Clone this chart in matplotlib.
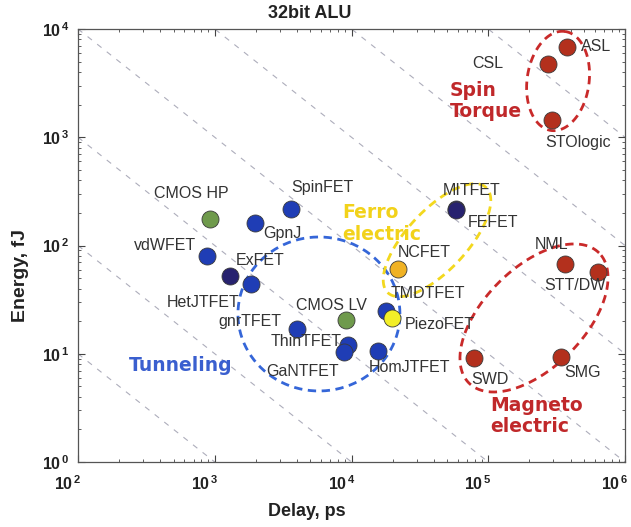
"""
Energy vs delay of a 32bit ALU for beyond-CMOS devices.
"""

import matplotlib
matplotlib.use("Agg")
import matplotlib.pyplot as plt
import numpy as np
from matplotlib.ticker import FixedLocator, LogLocator, FuncFormatter, NullFormatter
from matplotlib.transforms import ScaledTranslation

plt.rcParams["font.family"] = ["Liberation Sans", "DejaVu Sans"]
plt.rcParams["mathtext.fontset"] = "custom"
plt.rcParams["mathtext.rm"] = "Liberation Sans"
plt.rcParams["mathtext.bf"] = "Liberation Sans:bold"

# Data (delay in ps, energy in fJ)
devices = ["CMOS HP", "GpnJ", "SpinFET", "vdWFET", "HetJTFET", "ExFET",
           "gnrTFET", "CMOS LV", "ThinTFET", "GaNTFET", "HomJTFET",
           "TMDTFET", "PiezoFET", "NCFET", "MITFET", "FEFET",
           "NML", "STT/DW", "SWD", "SMG", "ASL", "CSL", "STOlogic"]
delay_ps = [922, 1967, 3610, 877, 1291, 1841,
            3990, 9120, 9420, 8810, 15600,
            17900, 19800, 21900, 58100, 58500,
            364000, 635000, 78700, 340000, 377000, 273000, 292000]
energy_fj = [176, 161, 217, 80, 52, 44,
             16.9, 20.5, 12.1, 10.4, 10.6,
             24.8, 21.4, 60.7, 217, 215,
             67.5, 56.9, 9.14, 9.33, 6820, 4750, 1443]
device_kind = ["cmos", "blue", "blue", "blue", "navy", "blue",
               "blue", "cmos", "blue", "blue", "blue",
               "blue", "piezo", "nc", "navy", "navy",
               "spin", "spin", "spin", "spin", "spin", "spin", "spin"]

groups = ["Tunneling", "Ferro\nelectric", "Spin\nTorque", "Magneto\nelectric"]
group_text_delay = [566, 8530, 52500, 103000]
group_text_energy = [7.87, 160, 2160, 2.66]
group_ellipse_delay = [5780, 42200, 324000, 216000]
group_ellipse_energy = [23.3, 112, 3310, 21.4]

decades = [1e0, 1e1, 1e2, 1e3, 1e4, 1e5, 1e6]

# styles
kind_colors = {
    "cmos": "#6f9a4c",
    "blue": "#1f3db5",
    "navy": "#27226f",
    "piezo": "#f2ee28",
    "nc": "#f0b224",
    "spin": "#b3301d",
}
group_colors = ["#3566d8", "#f3d81e", "#c92a2a", "#c92a2a"]
group_text_colors = ["#3a5fcf", "#f2d21a", "#c0282a", "#c0282a"]
group_align = ["center", "left", "left", "left"]
# ellipse semi-axes (px) and tilt (deg)
ellipse_shape = [(81, 77, 0), (72, 30, 47), (50, 31, 82), (92, 50, 45)]

# label offsets from the marker in pixels (right, down)
label_offsets = {
    "CMOS HP": (-19, -25), "GpnJ": (27, 10), "SpinFET": (31, -22),
    "vdWFET": (-42, -10), "HetJTFET": (-27, 26), "ExFET": (9, -24),
    "gnrTFET": (-47, -8), "CMOS LV": (-15, -15), "ThinTFET": (-42, -3),
    "GaNTFET": (-41, 20), "HomJTFET": (32, 16), "TMDTFET": (42, -18),
    "PiezoFET": (48, 7), "NCFET": (26, -16), "MITFET": (16, -19),
    "FEFET": (37, 13), "NML": (-13, -19), "STT/DW": (-23, 13),
    "SWD": (16, 22), "SMG": (22, 15), "ASL": (29, 0), "CSL": (-60, 0),
    "STOlogic": (26, 22),
}

W, H = 631, 527


def draw_ellipse(ax, x, y, a, b, angle, color):
    """
    Dashed ellipse drawn in screen space around a data point.
    """
    cx, cy = ax.transData.transform((x, y))
    t = np.linspace(0, 2 * np.pi, 300)
    th = np.radians(angle)
    px = cx + a * np.cos(t) * np.cos(th) - b * np.sin(t) * np.sin(th)
    py = cy + a * np.cos(t) * np.sin(th) + b * np.sin(t) * np.cos(th)
    pts = ax.transData.inverted().transform(np.column_stack([px, py]))
    ax.plot(pts[:, 0], pts[:, 1], color=color, lw=2.0,
            dashes=(3, 2), zorder=2)


fig = plt.figure(figsize=(W / 100, H / 100), dpi=100)
ax = fig.add_axes([78 / W, 1 - 462 / H, 547 / W, 433 / H])

ax.set_xscale("log")
ax.set_yscale("log")
ax.set_xlim(1e2, 1e6)
ax.set_ylim(1e0, 1e4)

# constant energy-delay product lines
xs = np.logspace(2, 6, 200)
for k in range(3, 10):
    ax.plot(xs, 10.0 ** k / xs, color="#adadbb", lw=0.8,
            dashes=(5, 6), zorder=1)

fmt = FuncFormatter(lambda v, pos: r"$\mathbf{10}^{\,\mathbf{%d}}$" % round(np.log10(v)))
for axis in (ax.xaxis, ax.yaxis):
    axis.set_major_locator(FixedLocator(decades))
    axis.set_minor_locator(LogLocator(base=10, subs=np.arange(2, 10), numticks=10))
    axis.set_major_formatter(fmt)
    axis.set_minor_formatter(NullFormatter())
ax.tick_params(which="both", direction="in", top=True, right=True,
               colors="#444444", labelcolor="#222222")
ax.tick_params(which="major", length=5, labelsize=11.5)
ax.tick_params(which="minor", length=2.5)
ax.tick_params(axis="x", pad=9)
ax.tick_params(axis="y", pad=6)
for s in ax.spines.values():
    s.set_color("#555555")
    s.set_linewidth(0.9)

for i in range(len(groups)):
    a, b, ang = ellipse_shape[i]
    draw_ellipse(ax, group_ellipse_delay[i], group_ellipse_energy[i],
                 a, b, ang, group_colors[i])
    ax.text(group_text_delay[i], group_text_energy[i], groups[i],
            color=group_text_colors[i], fontsize=13.5, fontweight="bold",
            family="DejaVu Sans", ha=group_align[i], va="center",
            multialignment="left", linespacing=1.15, zorder=3)

for name, x, y, kind in zip(devices, delay_ps, energy_fj, device_kind):
    ax.scatter(x, y, s=150, color=kind_colors[kind], edgecolors="#3a3a3a",
               linewidths=0.6, zorder=4)
    dx, dy = label_offsets[name]
    ax.annotate(name, (x, y), xytext=(dx, -dy), textcoords="offset pixels",
                ha="center", va="center", fontsize=11.5, color="#333333",
                zorder=5)

fig.text(310 / W, 1 - 13 / H, "32bit ALU", ha="center", va="center",
         fontsize=13, fontweight="bold", color="#222222")
fig.text(307 / W, 1 - 512 / H, "Delay, ps", ha="center", va="center",
         fontsize=13, fontweight="bold", color="#222222")
fig.text(21 / W, 1 - 275 / H, "Energy, fJ", ha="center", va="center",
         rotation=90, fontsize=14, fontweight="bold", color="#222222")

# the x tick labels sit a little left of their ticks in the original
fig.canvas.draw()
shift = ScaledTranslation(-0.1, 0, fig.dpi_scale_trans)
for lab in ax.xaxis.get_majorticklabels():
    lab.set_transform(lab.get_transform() + shift)

fig.savefig("out.png", dpi=100)
